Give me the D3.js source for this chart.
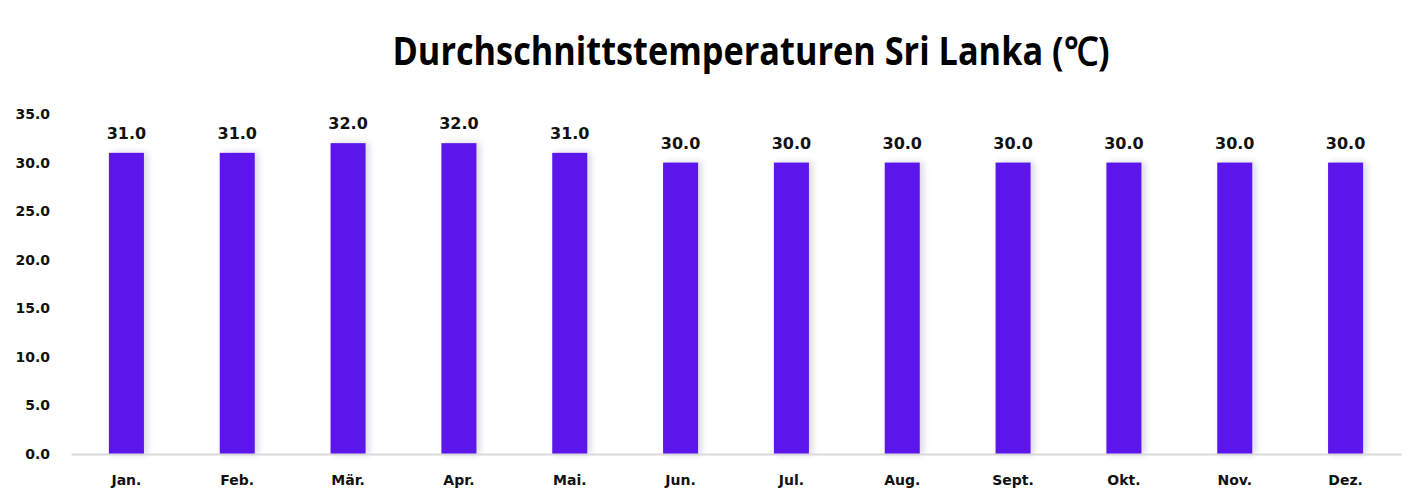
<!DOCTYPE html>
<html>
<head>
<meta charset="utf-8">
<script src="https://cdn.jsdelivr.net/npm/d3@7"></script>
<style>
  body { margin: 0; background: #fff; }
  svg text { font-family: Tahoma, "DejaVu Sans", sans-serif; }
</style>
</head>
<body>
<script>
// Monate und Durchschnittstemperaturen
var months = ['Jan.', 'Feb.', 'Mär.', 'Apr.', 'Mai.', 'Jun.', 'Jul.', 'Aug.', 'Sept.', 'Okt.', 'Nov.', 'Dez.'];
var temps = [31, 31, 32, 32, 31, 30, 30, 30, 30, 30, 30, 30];
var yTicks = [0, 5, 10, 15, 20, 25, 30, 35];

var width = 1422, height = 503;
var plotLeft = 71, plotRight = 1401, plotTop = 114, plotBottom = 454;

var svg = d3.select('body').append('svg')
  .attr('width', width)
  .attr('height', height);

var defs = svg.append('defs');
var f = defs.append('filter').attr('id', 'shadow')
  .attr('x', '-20%').attr('y', '-10%').attr('width', '160%').attr('height', '120%');
f.append('feDropShadow')
  .attr('dx', 3).attr('dy', 0).attr('stdDeviation', 3)
  .attr('flood-color', '#1a2a6a').attr('flood-opacity', 0.2);

var x = d3.scaleBand().domain(months).range([plotLeft, plotRight]).paddingInner(0.684).paddingOuter(0.342);
var y = d3.scaleLinear().domain([0, 35]).range([plotBottom, plotTop]);

// Titel
svg.append('text')
  .attr('x', 751)
  .attr('y', 65)
  .attr('text-anchor', 'middle')
  .style('font-family', '"Open Sans", sans-serif')
  .style('font-weight', 'bold')
  .style('font-size', '39px')
  .attr('textLength', 717)
  .attr('lengthAdjust', 'spacingAndGlyphs')
  .text('Durchschnittstemperaturen Sri Lanka (℃)');

// y-Achse
var yAxis = svg.append('g')
  .attr('transform', 'translate(' + (plotLeft - 21) + ',0)')
  .call(d3.axisLeft(y).tickValues(yTicks).tickFormat(d3.format('.1f')).tickSize(0).tickPadding(0));
yAxis.select('.domain').remove();
yAxis.selectAll('text')
  .style('font-size', '14px')
  .style('font-weight', 'bold')
  .attr('fill', '#111');

// Balken
svg.selectAll('rect.bar')
  .data(temps)
  .enter()
  .append('rect')
  .attr('class', 'bar')
  .attr('x', function(d, i) { return x(months[i]); })
  .attr('y', function(d) { return y(d); })
  .attr('width', x.bandwidth())
  .attr('height', function(d) { return y(0) - y(d); })
  .attr('fill', '#5b17eb')
  .attr('filter', 'url(#shadow)');

// x-Achse
var xAxis = svg.append('g')
  .attr('transform', 'translate(0,' + plotBottom + ')')
  .call(d3.axisBottom(x).tickSize(0).tickPadding(21));
xAxis.select('.domain').attr('stroke', '#d9d9d9').attr('stroke-width', 2);
xAxis.selectAll('text')
  .style('font-size', '14px')
  .style('font-weight', 'bold')
  .attr('fill', '#111');

// Werte
svg.selectAll('text.val')
  .data(temps)
  .enter()
  .append('text')
  .attr('class', 'val')
  .attr('x', function(d, i) { return x(months[i]) + x.bandwidth() / 2; })
  .attr('y', function(d) { return y(d) - 14; })
  .attr('text-anchor', 'middle')
  .style('font-size', '16px')
  .style('font-weight', 'bold')
  .attr('fill', '#111')
  .text(function(d) { return d3.format('.1f')(d); });
</script>
</body>
</html>
